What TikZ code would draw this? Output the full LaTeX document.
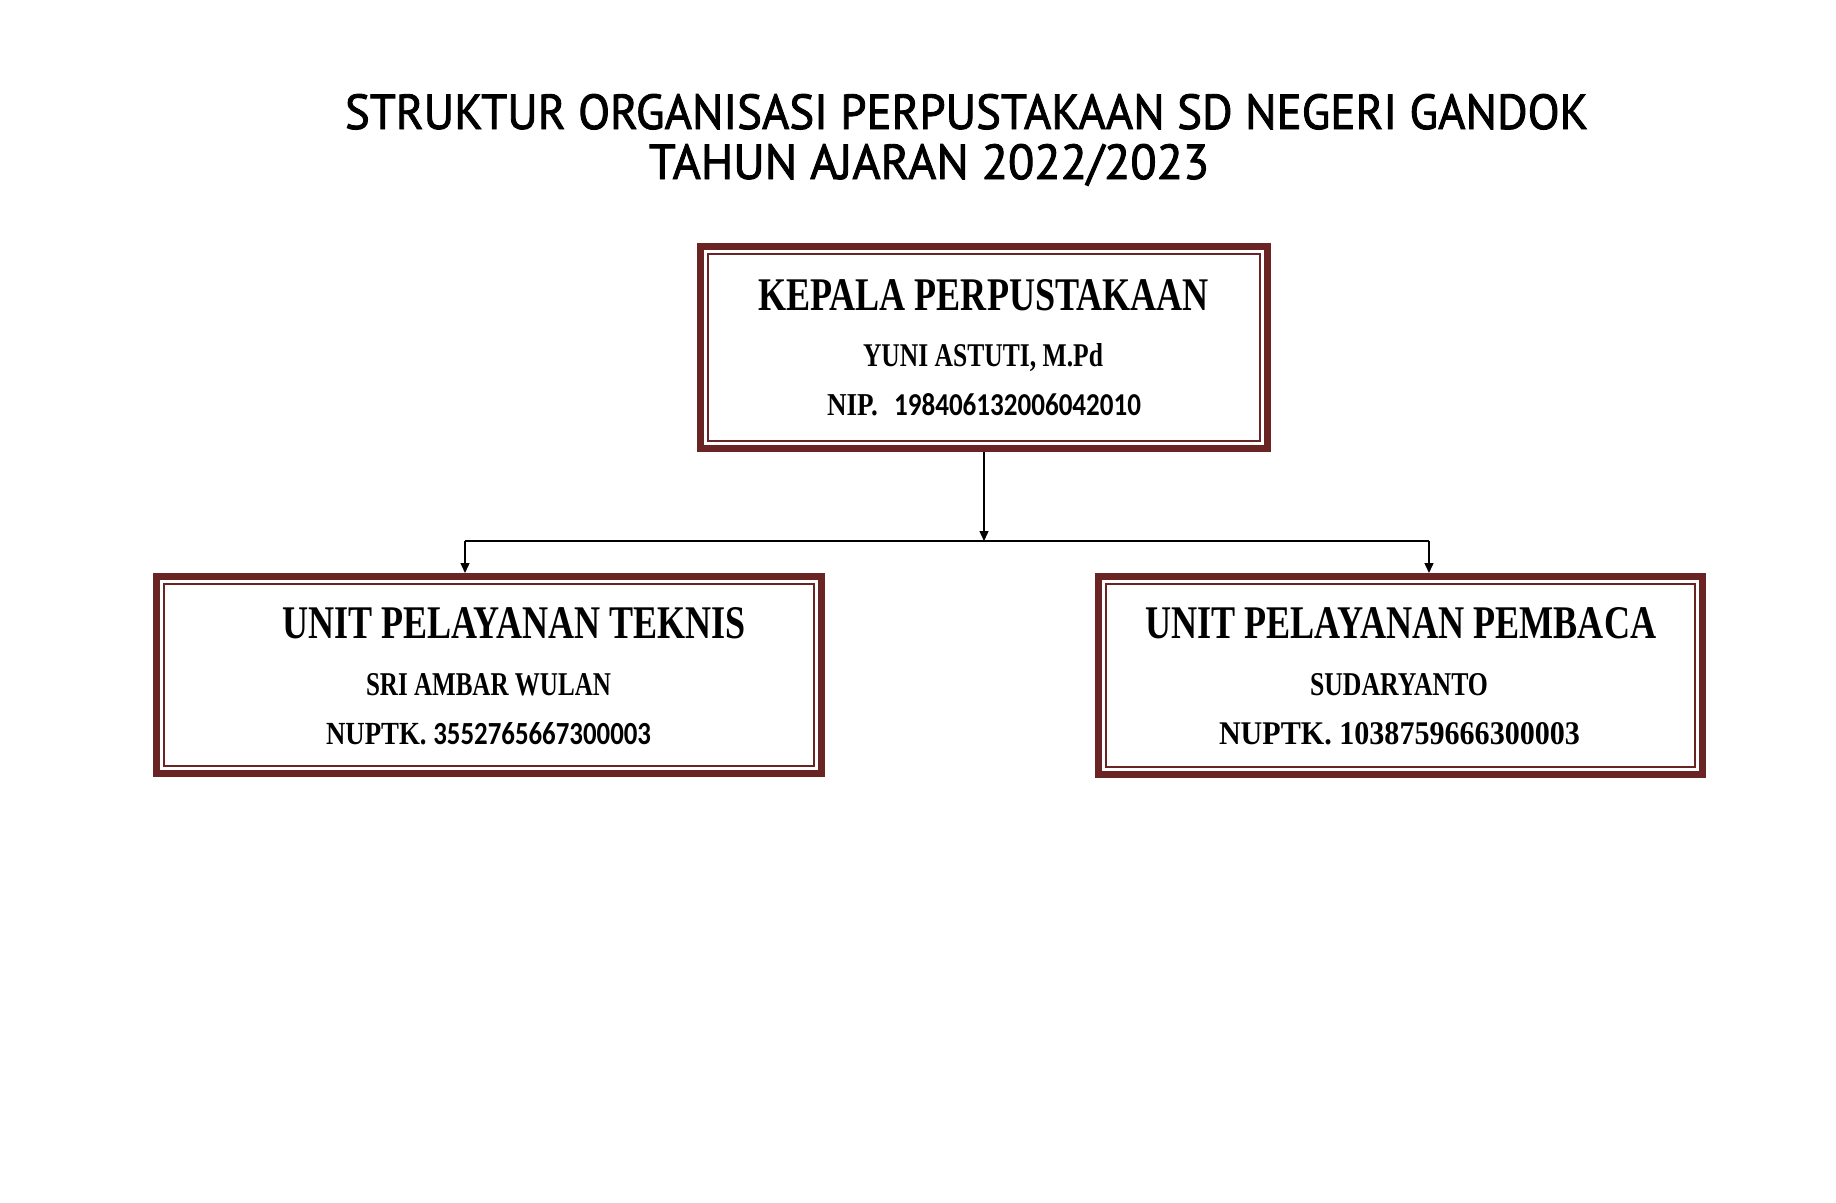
\documentclass[tikz,border=0pt]{standalone}
\usepackage{fontspec}
\setmainfont{Liberation Serif}
\newfontfamily\titlefont{PT Sans}[RawFeature={embolden=1.8}]
\newfontfamily\digitfont{Carlito}
\usetikzlibrary{arrows.meta}
\definecolor{boxmaroon}{HTML}{6B2424}
\newcommand{\fitbox}[3]{\resizebox{#1bp}{#2bp}{#3}}
\begin{document}
\begin{tikzpicture}[x=1bp,y=-1bp,
  txt/.style={inner sep=0pt, outer sep=0pt, anchor=base west, font=\bfseries},
  ttl/.style={inner sep=0pt, outer sep=0pt, anchor=base west},
  orgbox/.style={draw=boxmaroon, line width=7bp, fill=white, inner sep=0pt},
  thinframe/.style={draw=boxmaroon, line width=2bp},
  conn/.style={draw=black, line width=1.4bp},
  arr/.style={conn, -{Triangle[length=10bp, width=9bp]}}
]
\useasboundingbox (0,0) rectangle (1836,1202);

% title
\node[ttl] (title1) at (345,129) {\fitbox{1243}{35}{\titlefont STRUKTUR ORGANISASI PERPUSTAKAAN SD NEGERI GANDOK}};
\node[ttl] (title2) at (649,179) {\fitbox{560}{35}{\titlefont TAHUN AJARAN 2022/2023}};

% boxes
\node[orgbox, minimum width=567bp, minimum height=202bp] (top) at (984,347.5) {};
\node[orgbox, minimum width=665bp, minimum height=197bp] (left) at (489,675) {};
\node[orgbox, minimum width=604bp, minimum height=198bp] (right) at (1400.5,675.5) {};

\foreach \b in {top,left,right}{
  \draw[thinframe] ([shift={(11,11)}]\b.north west) rectangle ([shift={(-11,-11)}]\b.south east);
}

% top box text
\node[txt] (t1) at (758,310) {\fitbox{451}{31}{KEPALA PERPUSTAKAAN}};
\node[txt] (t2) at (863,366) {\fitbox{240}{23}{YUNI ASTUTI, M.Pd}};
\node[txt] (t3) at (827,415) {\fitbox{314}{22}{NIP.\hspace{0.6em}{\digitfont\bfseries 198406132006042010}}};

% left box text
\node[txt] (l1) at (282,638) {\fitbox{464}{31}{UNIT PELAYANAN TEKNIS}};
\node[txt] (l2) at (366,695) {\fitbox{245}{22}{SRI AMBAR WULAN}};
\node[txt] (l3) at (326,744) {\fitbox{325}{22}{NUPTK. {\digitfont\bfseries 3552765667300003}}};

% right box text
\node[txt] (r1) at (1145,638) {\fitbox{511}{31}{UNIT PELAYANAN PEMBACA}};
\node[txt] (r2) at (1310,695) {\fitbox{178}{22}{SUDARYANTO}};
\node[txt] (r3) at (1219,744) {\fitbox{361}{22}{NUPTK. 1038759666300003}};

% connectors
\coordinate (junc) at (984,541);
\coordinate (jl) at (465,541);
\coordinate (jr) at (1429,541);
\draw[conn] (jl) -- (jr);
\draw[arr] (top.south) -- (junc);
\draw[arr] (jl) -- (jl |- left.north);
\draw[arr] (jr) -- (jr |- right.north);
\end{tikzpicture}
\end{document}
